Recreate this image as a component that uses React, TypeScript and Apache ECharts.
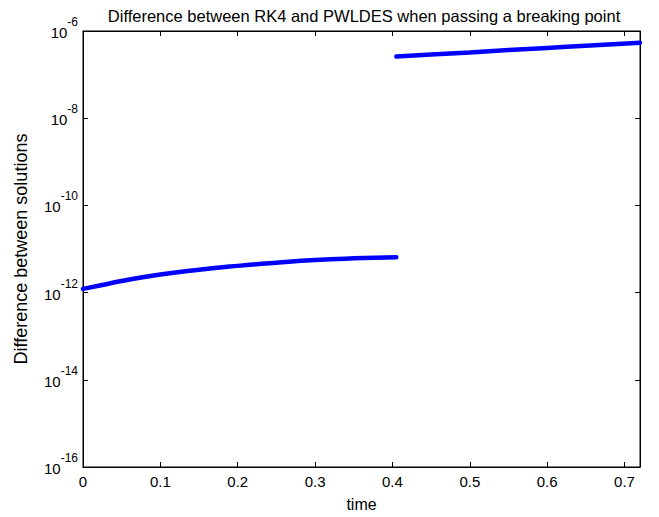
import React, { useEffect, useRef } from "react";
import * as echarts from "echarts";

const titleText = "Difference between RK4 and PWLDES when passing a breaking point";
const xAxisName = "time";
const yAxisName = "Difference between solutions";

const xTicks = [0, 0.1, 0.2, 0.3, 0.4, 0.5, 0.6, 0.7];
const xMax = 0.72;
const yMin = 1e-16;
const yMax = 1e-6;

// Segment before the breaking point
const timeBefore = [0, 0.025, 0.05, 0.1, 0.15, 0.2, 0.25, 0.3, 0.35, 0.405];
const diffBefore = [1.22e-12, 1.5e-12, 1.85e-12, 2.6e-12, 3.35e-12, 4.1e-12, 4.85e-12, 5.6e-12, 6.1e-12, 6.45e-12];

// Segment after the breaking point
const timeAfter = [0.405, 0.45, 0.5, 0.55, 0.6, 0.65, 0.72];
const diffAfter = [2.6e-7, 2.88e-7, 3.23e-7, 3.65e-7, 4.1e-7, 4.6e-7, 5.4e-7];

const FONT = "Liberation Sans, Arial, sans-serif";

export default function App() {
  const ref = useRef<HTMLDivElement>(null);
  useEffect(() => {
    if (!ref.current) return;
    const chart = echarts.init(ref.current, undefined, { renderer: "svg" });
    const pairs = (xs: number[], ys: number[]) => xs.map((x, i) => [x, ys[i]]);
    const expLabel = (v: number) => {
      const e = Math.round(Math.log10(v));
      return `{b|10}{s|${e}}`;
    };
    const tickStyle = { show: true, inside: true, length: 5, lineStyle: { color: "#000" } };
    chart.setOption({
      animation: false,
      backgroundColor: "#fff",
      textStyle: { fontFamily: FONT },
      title: {
        text: titleText,
        left: 359,
        textAlign: "center",
        top: 2,
        textStyle: { fontSize: 16.5, fontWeight: "normal", color: "#000", fontFamily: FONT },
      },
      grid: {
        left: 83,
        right: 19,
        top: 31,
        bottom: 48,
        show: true,
        borderColor: "#000",
        borderWidth: 1,
        backgroundColor: "#fff",
      },
      xAxis: [
        {
          type: "value",
          min: 0,
          max: xMax,
          interval: 0.1,
          position: "bottom",
          name: xAxisName,
          nameLocation: "middle",
          nameGap: 29,
          nameTextStyle: { fontSize: 16, color: "#000", fontFamily: FONT },
          axisLine: { show: true, onZero: false, lineStyle: { color: "#000" } },
          axisTick: tickStyle,
          splitLine: { show: false },
          axisLabel: {
            margin: 7,
            fontSize: 15,
            color: "#000",
            fontFamily: FONT,
            showMaxLabel: false,
            formatter: (v: number) => (xTicks.some((t) => Math.abs(t - v) < 1e-9) ? String(Math.round(v * 10) / 10) : ""),
          },
        },
        {
          type: "value",
          min: 0,
          max: xMax,
          interval: 0.1,
          position: "top",
          axisLine: { show: true, onZero: false, lineStyle: { color: "#000" } },
          axisTick: tickStyle,
          axisLabel: { show: false },
          splitLine: { show: false },
        },
      ],
      yAxis: [
        {
          type: "log",
          logBase: 10,
          min: yMin,
          max: yMax,
          interval: 2,
          position: "left",
          name: yAxisName,
          nameLocation: "middle",
          nameGap: 53,
          nameTextStyle: { fontSize: 18, color: "#000", fontFamily: FONT },
          axisLine: { show: true, onZero: false, lineStyle: { color: "#000" } },
          axisTick: tickStyle,
          minorTick: { show: false },
          splitLine: { show: false },
          axisLabel: {
            margin: 5,
            padding: [0, 0, 6, 0],
            formatter: expLabel,
            rich: {
              b: { fontSize: 15, lineHeight: 24, color: "#000", fontFamily: FONT, verticalAlign: "bottom" },
              s: { fontSize: 12, lineHeight: 12, color: "#000", fontFamily: FONT, verticalAlign: "top" },
            },
          },
        },
        {
          type: "log",
          logBase: 10,
          min: yMin,
          max: yMax,
          interval: 2,
          position: "right",
          axisLine: { show: true, onZero: false, lineStyle: { color: "#000" } },
          axisTick: tickStyle,
          axisLabel: { show: false },
          splitLine: { show: false },
        },
      ],
      series: [
        {
          type: "line",
          xAxisIndex: 0,
          yAxisIndex: 0,
          data: pairs(timeBefore, diffBefore),
          showSymbol: false,
          symbol: "none",
          smooth: true,
          lineStyle: { color: "#0000ff", width: 4.5, cap: "round" },
        },
        {
          type: "line",
          xAxisIndex: 0,
          yAxisIndex: 0,
          data: pairs(timeAfter, diffAfter),
          showSymbol: false,
          symbol: "none",
          smooth: true,
          lineStyle: { color: "#0000ff", width: 4.5, cap: "round" },
        },
      ],
    });
    return () => chart.dispose();
  }, []);
  return <div ref={ref} style={{ position: "fixed", left: 0, top: 0, width: 659, height: 517 }} />;
}
